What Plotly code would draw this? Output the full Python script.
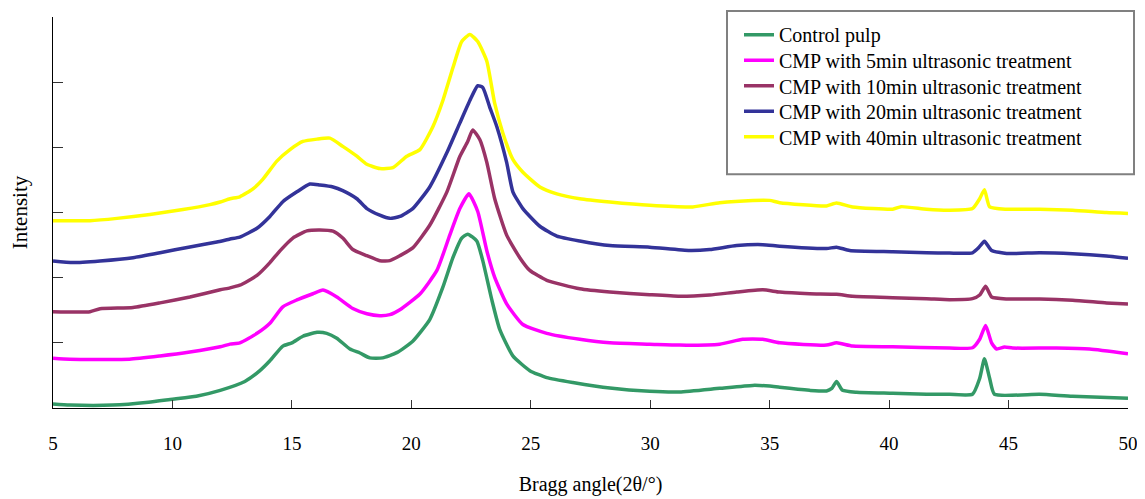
import plotly.graph_objects as go

# ---- data ----
control_x = [5.0, 5.7, 7.5, 9.0, 10.0, 11.0, 12.0, 13.03, 13.66, 14.08, 14.62, 15.0, 15.46, 16.05, 16.46, 16.88,
             17.43, 17.85, 18.26, 18.8, 19.39, 20.06, 20.77, 21.32, 21.74, 22.11, 22.36, 22.74, 22.99, 23.37,
             23.7, 24.25, 24.96, 25.67, 26.76, 28.31, 29.98, 31.23, 32.91, 34.29, 35.0, 35.42, 36.67, 37.38,
             37.6, 37.8, 38.05, 38.64, 40.15, 41.57, 42.53, 43.49, 43.79, 43.99, 44.21, 44.41, 46.3, 47.68, 50.0]
control_y = [60, 45, 45, 90, 136, 181, 271, 407, 573, 724, 950, 1000, 1101, 1161, 1146, 1070,
             905, 844, 769, 769, 849, 1025, 1357, 1854, 2307, 2608, 2668, 2563, 2262, 1658,
             1206, 799, 573, 467, 392, 306, 256, 246, 302, 347, 336, 317, 271, 261,
             300, 407, 271, 241, 226, 211, 211, 211, 452, 754, 452, 211, 211, 181, 151]

min5_x = [5.0, 5.7, 8.2, 9.48, 10.73, 12.0, 12.41, 12.82, 13.54, 14.08, 14.62, 15.21, 15.88, 16.3, 16.88,
          17.55, 18.14, 18.68, 19.1, 19.52, 20.36, 21.07, 21.61, 22.03, 22.41, 22.78, 23.16, 23.49, 23.99,
          24.67, 25.67, 27.05, 28.31, 29.98, 31.23, 32.91, 33.87, 34.71, 35.42, 37.38, 37.8, 38.47, 40.15,
          42.53, 43.49, 43.79, 44.04, 44.29, 44.5, 44.83, 45.17, 47.01, 48.39, 50.0]
min5_y = [764, 749, 749, 799, 859, 939, 980, 1000, 1146, 1301, 1553, 1658, 1753, 1809, 1704,
          1527, 1447, 1417, 1432, 1508, 1749, 2111, 2653, 3060, 3287, 3015, 2412, 2005, 1598,
          1281, 1146, 1055, 1000, 980, 965, 980, 1055, 1055, 1000, 965, 1000, 950, 939,
          920, 924, 1055, 1266, 1000, 905, 935, 920, 920, 905, 834]

min10_x = [5.0, 6.55, 6.97, 8.35, 9.48, 10.73, 12.0, 12.41, 12.82, 13.54, 14.08, 14.5, 15.04, 15.63, 16.17,
           16.72, 17.13, 17.55, 18.14, 18.68, 19.1, 19.52, 20.06, 20.77, 21.49, 22.03, 22.36, 22.57, 22.87,
           23.16, 23.49, 23.99, 24.54, 24.96, 25.67, 27.05, 28.31, 29.98, 31.23, 32.49, 33.62, 34.71, 35.42,
           36.67, 37.8, 38.47, 40.15, 41.57, 42.53, 43.49, 43.79, 44.04, 44.29, 44.92, 46.3, 47.68, 49.1, 50.0]
min10_y = [1477, 1477, 1523, 1542, 1613, 1704, 1814, 1844, 1884, 2035, 2231, 2412, 2608, 2718, 2733,
           2714, 2608, 2432, 2337, 2261, 2261, 2337, 2457, 2804, 3317, 3859, 4090, 4266, 4116,
           3769, 3211, 2653, 2307, 2111, 1960, 1829, 1779, 1738, 1714, 1734, 1779, 1814, 1779,
           1753, 1744, 1714, 1693, 1678, 1663, 1678, 1734, 1869, 1704, 1673, 1673, 1654, 1613, 1594]

min20_x = [5.0, 5.84, 6.97, 8.35, 9.48, 10.73, 11.86, 12.41, 12.82, 13.54, 14.08, 14.62, 15.21, 15.75, 16.17,
           16.72, 17.13, 17.72, 18.14, 18.68, 19.1, 19.52, 20.06, 20.77, 21.49, 22.03, 22.45, 22.78, 22.99,
           23.28, 23.58, 23.99, 24.25, 24.67, 25.38, 26.09, 27.05, 28.31, 29.98, 31.65, 32.49, 33.62, 34.71,
           35.42, 37.38, 37.8, 38.35, 40.15, 41.57, 42.53, 43.49, 43.74, 43.99, 44.29, 44.92, 46.3, 47.68,
           49.1, 50.0]
min20_y = [2257, 2231, 2257, 2307, 2382, 2472, 2548, 2593, 2623, 2759, 2940, 3166, 3317, 3437, 3422,
           3392, 3336, 3211, 3060, 2959, 2910, 2940, 3060, 3392, 3920, 4372, 4719, 4945, 4919,
           4618, 4316, 3769, 3317, 3060, 2789, 2638, 2563, 2492, 2468, 2417, 2432, 2492, 2507,
           2483, 2447, 2468, 2417, 2397, 2382, 2377, 2382, 2457, 2558, 2417, 2371, 2382, 2367,
           2332, 2296]

min40_x = [5.0, 6.55, 7.68, 9.06, 10.44, 11.57, 12.0, 12.41, 12.82, 13.37, 13.79, 14.37, 14.92, 15.46, 16.05,
           16.59, 17.13, 17.72, 18.14, 18.68, 19.23, 19.81, 20.36, 20.9, 21.32, 21.74, 22.11, 22.45, 22.78,
           23.16, 23.49, 23.83, 24.25, 24.67, 25.38, 26.09, 27.05, 28.31, 29.98, 31.78, 32.91, 34.29, 35.0,
           35.42, 37.38, 37.8, 38.47, 40.15, 40.5, 41.57, 42.53, 43.49, 43.79, 43.99, 44.21, 44.92, 46.3,
           47.68, 49.1, 50.0]
min40_y = [2875, 2875, 2910, 2970, 3045, 3121, 3161, 3211, 3241, 3362, 3513, 3789, 3965, 4090, 4126,
           4141, 4015, 3864, 3739, 3674, 3689, 3864, 3965, 4316, 4719, 5221, 5623, 5733, 5623,
           5322, 4673, 4221, 3814, 3618, 3392, 3287, 3211, 3161, 3110, 3086, 3151, 3186, 3186,
           3151, 3101, 3146, 3086, 3050, 3090, 3050, 3035, 3060, 3211, 3351, 3086, 3050, 3050,
           3035, 2999, 2985]

series_names = ["Control pulp",
                "CMP with 5min ultrasonic treatment",
                "CMP with 10min ultrasonic treatment",
                "CMP with 20min ultrasonic treatment",
                "CMP with 40min ultrasonic treatment"]
series_colors = ["#339966", "#FF00FF", "#993366", "#333399", "#FFFF00"]
xs = [control_x, min5_x, min10_x, min20_x, min40_x]
ys = [control_y, min5_y, min10_y, min20_y, min40_y]

x_ticks = [5, 10, 15, 20, 25, 30, 35, 40, 45, 50]
y_ticks = [0, 1000, 2000, 3000, 4000, 5000, 6000]

FONT = "Liberation Serif, Times New Roman, serif"

# page has an 8px body margin: figure coordinates = page coordinates - 8
OFF = 8
W, H = 1145 - OFF, 499 - OFF
L, T = 53 - OFF, 15 - OFF
PW, PH = 1075, 398
R, B = W - L - PW, H - T - PH


def px_x(p):
    return (p - OFF - L) / PW


def px_y(p):
    return (T + PH - (p - OFF)) / PH


legend_ids = ["legend", "legend2", "legend3", "legend4", "legend5"]
legend_rows = [33, 59, 85, 111, 137]  # page y of each legend row

fig = go.Figure()
for name, color, x, y, lid in zip(series_names, series_colors, xs, ys, legend_ids):
    fig.add_trace(go.Scatter(x=x, y=y, mode="lines", name=name, legend=lid,
                             line=dict(color=color, width=3.5, shape="spline", smoothing=0.5)))

# legend frame
fig.add_shape(type="rect", xref="paper", yref="paper",
              x0=px_x(727), x1=px_x(1134), y0=px_y(175), y1=px_y(9),
              line=dict(color="#808080", width=2), fillcolor="rgba(0,0,0,0)", layer="above")

legend_style = dict(xanchor="left", yanchor="middle", bgcolor="rgba(0,0,0,0)", borderwidth=0,
                    font=dict(family=FONT, size=20, color="black"), itemwidth=30)
legends = {lid: dict(x=px_x(739), y=px_y(row), **legend_style)
           for lid, row in zip(legend_ids, legend_rows)}

fig.update_layout(
    width=W, height=H,
    margin=dict(l=L, r=R, t=T, b=B),
    paper_bgcolor="white", plot_bgcolor="white",
    font=dict(family=FONT, size=19, color="black"),
    showlegend=True,
    xaxis=dict(range=[5, 50], tickvals=x_ticks, ticks="inside", ticklen=8, tickcolor="#333333",
               tickfont=dict(family=FONT, size=19),
               showline=True, linecolor="black", linewidth=1, showgrid=False, zeroline=False,
               ticklabelstandoff=18,
               title=dict(text="Bragg angle(2θ/°)", font=dict(family=FONT, size=20), standoff=24)),
    yaxis=dict(range=[0, 6000], tickvals=y_ticks, ticks="inside", ticklen=10, tickcolor="#333333",
               showticklabels=False,
               showline=True, linecolor="black", linewidth=1, showgrid=False, zeroline=False,
               title=dict(text="Intensity", font=dict(family=FONT, size=21), standoff=21)),
    **legends,
)

fig.write_html("out.html")
